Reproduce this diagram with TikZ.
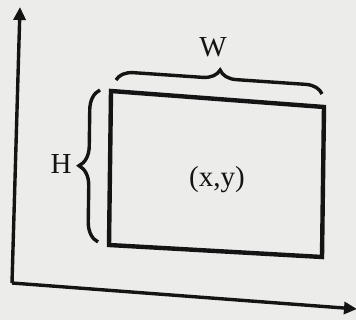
\documentclass[tikz,border=0pt]{standalone}
\usepackage{fontspec}
\setmainfont{Liberation Serif}
\usetikzlibrary{arrows.meta,decorations.pathreplacing}
\definecolor{paper}{RGB}{236,236,234}
\definecolor{ink}{RGB}{20,20,20}
\tikzset{
  axis/.style={line width=3.4pt, draw=ink, -{Triangle[length=13pt,width=12pt]}},
  box/.style={line width=4.4pt, draw=ink, line join=miter},
  bracepath/.style={line width=3.4pt, draw=ink, decorate,
    decoration={brace, amplitude=#1}},
  lbl/.style={font=\fontsize{29}{29}\selectfont, text=ink, inner sep=0pt}
}
\begin{document}
\begin{tikzpicture}[x=1pt,y=-1pt]
  \fill[paper] (0,0) rectangle (356,320);
  \useasboundingbox (0,0) rectangle (356,320);
  % axes
  \coordinate (O) at (12,283);
  \coordinate (ytip) at (20,7);
  \coordinate (xtip) at (357,309);
  \draw[axis] (O) -- (ytip);
  \draw[axis] (O) -- (xtip);
  % rectangle
  \coordinate (tl) at (111,91);
  \coordinate (tr) at (324,107);
  \coordinate (br) at (322,257);
  \coordinate (bl) at (109,245);
  \draw[box] (tl) -- (tr) -- (br) -- (bl) -- cycle;
  % braces
  \coordinate (wa) at (116,80);
  \coordinate (wb) at (322,94);
  \draw[bracepath=17pt] (wa) -- (wb);
  \coordinate (ha) at (98,242);
  \coordinate (hb) at (100,90);
  \draw[bracepath=20pt] (ha) -- (hb);
  % labels
  \node[lbl] (W) at (213,47) {W};
  \node[lbl] (H) at (61,164) {H};
  \node[lbl] (xy) at (217,180) {(x,y)};
\end{tikzpicture}
\end{document}
